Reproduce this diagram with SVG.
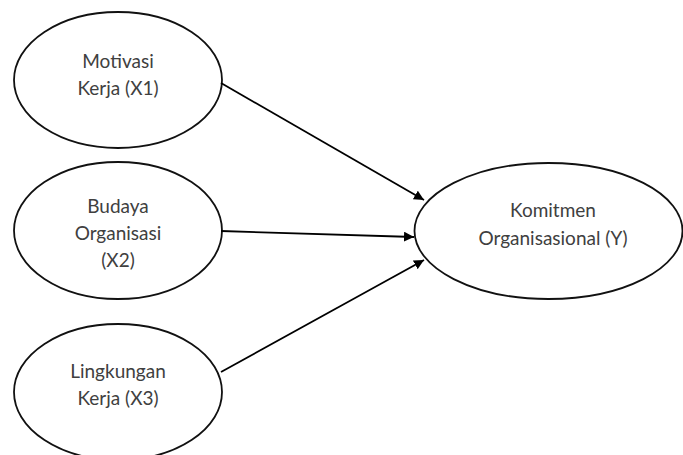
<svg xmlns="http://www.w3.org/2000/svg" width="683" height="455" viewBox="0 0 683 455">
<defs>
<marker id="arr" viewBox="0 0 10 10" refX="10" refY="5" markerWidth="10" markerHeight="10" markerUnits="userSpaceOnUse" orient="auto">
<path d="M0,0 L10,5 L0,10 Z" fill="#000"/>
</marker>
<style>
.node ellipse{fill:#fff;stroke:#111;stroke-width:1.8}
.node text{font-family:Lato,"Liberation Sans",sans-serif;font-size:19px;fill:#404040;text-anchor:middle}
.edge{stroke:#000;stroke-width:1.8;fill:none;marker-end:url(#arr)}
</style>
</defs>
<rect width="683" height="455" fill="#fff"/>
<g id="x1" class="node">
<ellipse cx="118" cy="80" rx="104" ry="68"/>
<text x="118" y="68">Motivasi</text>
<text x="118" y="95">Kerja (X1)</text>
</g>
<g id="x2" class="node">
<ellipse cx="118" cy="230.5" rx="104" ry="68.5"/>
<text x="118" y="213">Budaya</text>
<text x="118" y="240">Organisasi</text>
<text x="118" y="267">(X2)</text>
</g>
<g id="x3" class="node">
<ellipse cx="118" cy="392" rx="104" ry="68"/>
<text x="118" y="378">Lingkungan</text>
<text x="118" y="405">Kerja (X3)</text>
</g>
<g id="y" class="node">
<ellipse cx="548.5" cy="231" rx="134" ry="68"/>
<text x="553" y="217">Komitmen</text>
<text x="553" y="245">Organisasional (Y)</text>
</g>
<g id="connectors">
<line class="edge" x1="221" y1="83" x2="424" y2="200"/>
<line class="edge" x1="221" y1="231" x2="414" y2="237"/>
<line class="edge" x1="221" y1="372" x2="424" y2="260"/>
</g>
</svg>
